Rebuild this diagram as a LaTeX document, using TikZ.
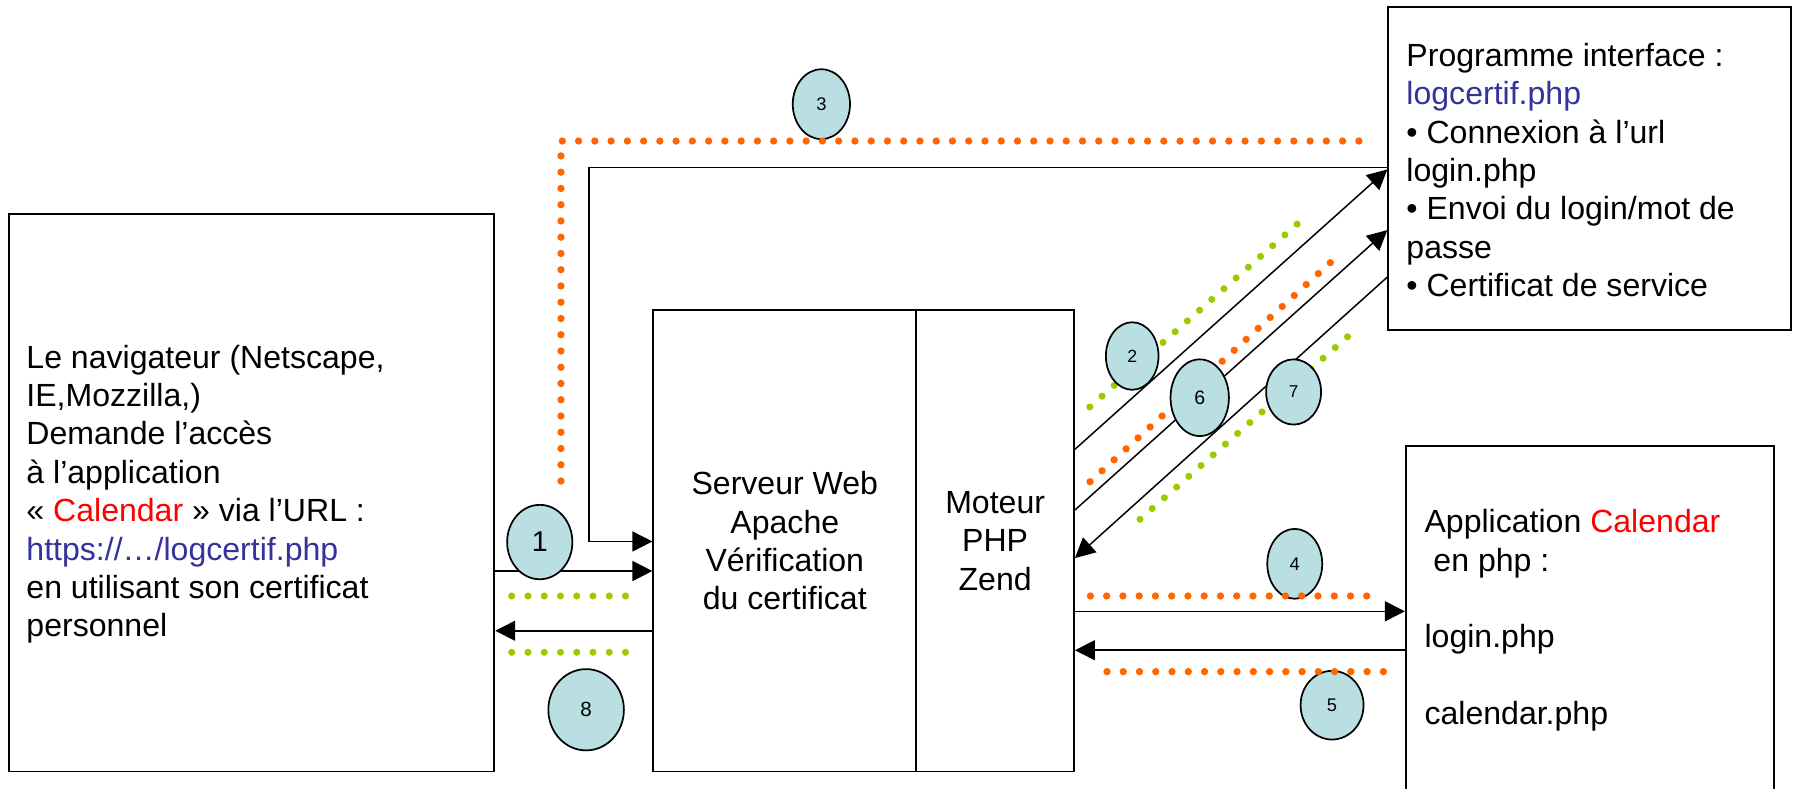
\documentclass[tikz,border=0pt]{standalone}
\usepackage{fontspec}
\setmainfont{Liberation Sans}
\usetikzlibrary{arrows.meta,shapes.geometric,fit}

\definecolor{bubble}{RGB}{186,223,227}
\definecolor{dotorange}{RGB}{255,102,0}
\definecolor{dotgreen}{RGB}{153,204,0}
\definecolor{linkblue}{RGB}{51,51,153}
\definecolor{calred}{RGB}{255,0,0}

\tikzset{
  box/.style={draw, rectangle, line width=0.8pt, inner sep=0pt},
  txt/.style={inner sep=0pt, font=\fontsize{14}{16.75}\selectfont},
  num/.style={ellipse, draw, line width=0.75pt, fill=bubble, inner sep=0pt},
  conn/.style={line width=0.65pt, -{Triangle[length=8.7pt,width=8.7pt]}},
  odots/.style={draw=dotorange, line width=3.2pt, line cap=round, dash pattern=on 0pt off 7.1pt},
  gdots/.style={draw=dotgreen, line width=3.1pt, line cap=round, dash pattern=on 0pt off 7.1pt},
}

\begin{document}
\begin{tikzpicture}[x=0.5pt,y=-0.5pt]
\useasboundingbox (0,0) rectangle (1568,689);

% ---- boxes ----
\node[box, fit={(7.5,186.8) (431.8,674)}] (nav) {};
\node[box, fit={(570.7,270.8) (800.4,674)}] (srv) {};
\node[box, fit={(800.4,270.8) (938.2,674)}] (php) {};
\node[box, fit={(1212.7,5.8) (1564.5,288.3)}] (prog) {};
\node[box, fit={(1228,389.6) (1549.6,694.4)}] (app) {};

% ---- box texts ----
\node[txt, anchor=west, align=left] (navtxt) at (22.7,431.7)
  {Le navigateur (Netscape,\\
   IE,Mozzilla,)\\
   Demande l’accès\\
   à l’application\\
   « \textcolor{calred}{Calendar} » via l’URL :\\
   \textcolor{linkblue}{https://…/logcertif.php}\\
   en utilisant son certificat\\
   personnel};
\node[txt, align=center] (srvtxt) at (srv.center)
  {Serveur Web\\ Apache\\ Vérification\\ du certificat};
\node[txt, align=center] (phptxt) at (php.center)
  {Moteur\\ PHP\\ Zend};
\node[txt, anchor=west, align=left] (progtxt) at (1228.2,148.5)
  {Programme interface :\\
   \textcolor{linkblue}{logcertif.php}\\
   • Connexion à l’url\\
   login.php\\
   • Envoi du login/mot de\\
   passe\\
   • Certificat de service};
\node[txt, anchor=west, align=left] (apptxt) at (1244,542)
  {Application \textcolor{calred}{Calendar}\\
   \hspace*{3.9pt}en php :\\
   \mbox{}\\
   login.php\\
   \mbox{}\\
   calendar.php};

% ---- levels used by the connectors ----
\coordinate (yA0) at (0,392.5);  \coordinate (yA1) at (0,148);
\coordinate (yB0) at (0,445.5);  \coordinate (yB1) at (0,201);
\coordinate (yC0) at (0,487.5);  \coordinate (yC1) at (0,242);
\coordinate (y3)  at (0,146.5);  \coordinate (y3s) at (0,473);
\coordinate (y1)  at (0,498.8);  \coordinate (y8)  at (0,551);
\coordinate (y4)  at (0,534);    \coordinate (y5)  at (0,568);
\coordinate (xturn) at (514.7,0);

% ---- dotted flows behind the bubbles ----
\draw[gdots] (952,355.5) -- (1134,195);
\draw[odots] (952.2,420.8) -- (1162.4,229.1);
\draw[gdots] (995.8,453.6) -- (1177.2,294.1);
\draw[gdots] (447,520.6) -- (546.5,520.6);
\draw[gdots] (447,569.8) -- (546.5,569.8);

% ---- connectors ----
\draw[conn] (nav.east |- y1) -- (srv.west |- y1);
\draw[conn] (srv.west |- y8) -- (nav.east |- y8);
\draw[conn] (prog.west |- y3) -- (xturn |- y3) -- (xturn |- y3s) -- (srv.west |- y3s);
\draw[conn] (php.east |- yA0) -- (prog.west |- yA1);
\draw[conn] (php.east |- yB0) -- (prog.west |- yB1);
\draw[conn] (prog.west |- yC1) -- (php.east |- yC0);
\draw[conn] (php.east |- y4) -- (app.west |- y4);
\draw[conn] (app.west |- y5) -- (php.east |- y5);

% ---- step bubbles ----
\node[num, minimum width=28.5pt, minimum height=32.5pt, font=\fontsize{12.5}{14}\selectfont] (n1) at (471.5,473.5) {1};
\node[num, minimum width=23pt, minimum height=29.5pt, font=\fontsize{7.7}{9}\selectfont] (n2) at (989,311) {2};
\node[num, minimum width=25pt, minimum height=30.5pt, font=\fontsize{8}{9}\selectfont] (n3) at (717.5,91) {3};
\node[num, minimum width=24pt, minimum height=30.5pt, font=\fontsize{8}{9}\selectfont] (n4) at (1131,492.5) {4};
\node[num, minimum width=27.5pt, minimum height=30pt, font=\fontsize{8}{9}\selectfont] (n5) at (1163.6,616) {5};
\node[num, minimum width=25.5pt, minimum height=33.5pt, font=\fontsize{8.5}{10}\selectfont] (n6) at (1048,347.4) {6};
\node[num, minimum width=24pt, minimum height=28.5pt, font=\fontsize{7.5}{9}\selectfont] (n7) at (1130,342.4) {7};
\node[num, minimum width=33pt, minimum height=35.5pt, font=\fontsize{9}{10}\selectfont] (n8) at (512,620) {8};

% ---- dotted flows drawn over the bubbles ----
\draw[odots] (1187,123.2) -- (490,123.2) -- (490,424.5);
\draw[odots] (952.5,520.6) -- (1194,520.6);
\draw[odots] (967,586.7) -- (1209,586.7);

\end{tikzpicture}
\end{document}
